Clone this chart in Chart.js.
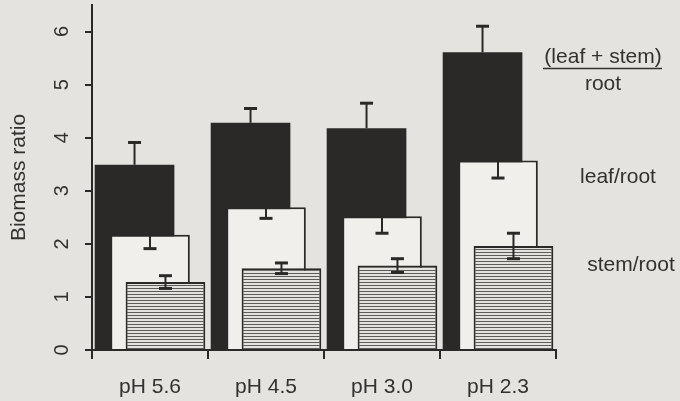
<!DOCTYPE html>
<html>
<head>
<meta charset="utf-8">
<script src="https://cdn.jsdelivr.net/npm/chart.js@4.4.1/dist/chart.umd.min.js"></script>
<style>
  html, body { margin: 0; padding: 0; background: #e5e3df; }
  canvas { display: block; }
</style>
</head>
<body>
<canvas id="biomassChart" width="680" height="401"></canvas>
<script>
// valores
var categories = ['pH 5.6', 'pH 4.5', 'pH 3.0', 'pH 2.3'];
var leafStemRoot = [3.49, 4.28, 4.18, 5.61];
var leafStemErr = [0.42, 0.27, 0.47, 0.49];
var leafRoot = [2.17, 2.69, 2.52, 3.57];
var leafErr = [0.26, 0.21, 0.32, 0.33];
var stemRoot = [1.28, 1.54, 1.59, 1.96];
var stemErr = [0.12, 0.10, 0.13, 0.24];
var yTicks = [0, 1, 2, 3, 4, 5, 6];

var ink = '#2b2927';
var textColor = '#333130';
var fontFamily = "'Liberation Sans', Arial, sans-serif";

function createHatch() {
  var c = document.createElement('canvas');
  c.width = 4;
  c.height = 3;
  var g = c.getContext('2d');
  g.fillStyle = '#e4e2de';
  g.fillRect(0, 0, 4, 3);
  g.fillStyle = '#5e5c5a';
  g.fillRect(0, 0, 4, 1);
  return g.createPattern(c, 'repeat');
}

function drawErrors(chart, i) {
  var ds = chart.data.datasets[i];
  var meta = chart.getDatasetMeta(i);
  var yScale = chart.scales.y;
  var ctx = chart.ctx;
  ctx.save();
  ctx.strokeStyle = ink;
  meta.data.forEach(function (bar, j) {
    var v = ds.data[j];
    var e = ds.errors[j];
    var top = ds.errUp ? v + e : v;
    var bottom = ds.errDown ? v - e : v;
    var yTop = yScale.getPixelForValue(top);
    var yBottom = yScale.getPixelForValue(bottom);
    ctx.lineWidth = 2;
    ctx.beginPath();
    ctx.moveTo(bar.x, yTop);
    ctx.lineTo(bar.x, yBottom);
    ctx.stroke();
    ctx.lineWidth = 3;
    if (ds.errUp) {
      ctx.beginPath();
      ctx.moveTo(bar.x - 6.5, yTop);
      ctx.lineTo(bar.x + 6.5, yTop);
      ctx.stroke();
    }
    if (ds.errDown) {
      ctx.beginPath();
      ctx.moveTo(bar.x - 6.5, yBottom);
      ctx.lineTo(bar.x + 6.5, yBottom);
      ctx.stroke();
    }
  });
  ctx.restore();
}

function drawSeriesLabels(chart) {
  var ctx = chart.ctx;
  var x0 = chart.chartArea.right;
  ctx.save();
  ctx.fillStyle = textColor;
  ctx.font = '21px ' + fontFamily;
  ctx.textAlign = 'center';
  ctx.textBaseline = 'alphabetic';
  ctx.fillText('(leaf + stem)', x0 + 47, 63);
  ctx.fillText('root', x0 + 47, 90);
  ctx.strokeStyle = textColor;
  ctx.lineWidth = 1.5;
  ctx.beginPath();
  ctx.moveTo(x0 - 13, 68.5);
  ctx.lineTo(x0 + 106, 68.5);
  ctx.stroke();
  ctx.fillText('leaf/root', x0 + 62, 183);
  ctx.fillText('stem/root', x0 + 75, 271);
  ctx.restore();
}

var layers = {
  id: 'layers',
  beforeDatasetsDraw: function (chart) {
    // desenha escuro -> branco -> hachurado, cada um com seu erro
    for (var i = 0; i < chart.data.datasets.length; i++) {
      chart.getDatasetMeta(i).controller.draw();
      drawErrors(chart, i);
    }
    return false;
  },
  afterDraw: function (chart) {
    drawSeriesLabels(chart);
  }
};

var hatch = createHatch();

const data = {
  labels: categories,
  datasets: [{
    label: '(leaf + stem)/root',
    data: leafStemRoot,
    errors: leafStemErr,
    errUp: true,
    errDown: false,
    backgroundColor: ink,
    borderColor: ink,
    borderWidth: 0
  }, {
    label: 'leaf/root',
    data: leafRoot,
    errors: leafErr,
    errUp: false,
    errDown: true,
    backgroundColor: '#f1efec',
    borderColor: ink,
    borderWidth: 2
  }, {
    label: 'stem/root',
    data: stemRoot,
    errors: stemErr,
    errUp: true,
    errDown: true,
    backgroundColor: hatch,
    borderColor: ink,
    borderWidth: 2
  }]
};

const config = {
  type: 'bar',
  data: data,
  options: {
    responsive: false,
    animation: false,
    devicePixelRatio: 1,
    layout: { padding: { top: 5, right: 124, bottom: 0, left: 0 } },
    datasets: {
      bar: { categoryPercentage: 0.4, barPercentage: 5.15 }
    },
    plugins: {
      legend: { display: false },
      tooltip: { enabled: false }
    },
    scales: {
      x: {
        z: 1,
        grid: { offset: true, drawOnChartArea: false, tickLength: 9, color: ink, lineWidth: 2 },
        border: { display: true, color: ink, width: 2 },
        ticks: { color: textColor, font: { family: fontFamily, size: 21 }, padding: 16 },
        afterFit: function (s) {
          s.height = 51;
          s.paddingLeft = 0;
          s.paddingRight = 0;
        }
      },
      y: {
        z: 1,
        min: 0,
        max: 6.5,
        afterBuildTicks: function (s) {
          s.ticks = yTicks.map(function (v) { return { value: v }; });
        },
        grid: { drawOnChartArea: false, tickLength: 7, color: ink, lineWidth: 2 },
        border: { display: true, color: ink, width: 2 },
        ticks: {
          color: textColor,
          font: { family: fontFamily, size: 20 },
          minRotation: 90,
          maxRotation: 90,
          crossAlign: 'center',
          padding: 17
        },
        title: {
          display: true,
          text: 'Biomass ratio',
          color: textColor,
          font: { family: fontFamily, size: 21 },
          padding: { top: 7, bottom: 0 }
        },
        afterFit: function (s) {
          s.width = 92;
          s.paddingTop = 0;
          s.paddingBottom = 0;
        }
      }
    }
  },
  plugins: [layers]
};

const ctx = document.getElementById('biomassChart').getContext('2d');
const biomassChart = new Chart(ctx, config);
</script>
</body>
</html>
